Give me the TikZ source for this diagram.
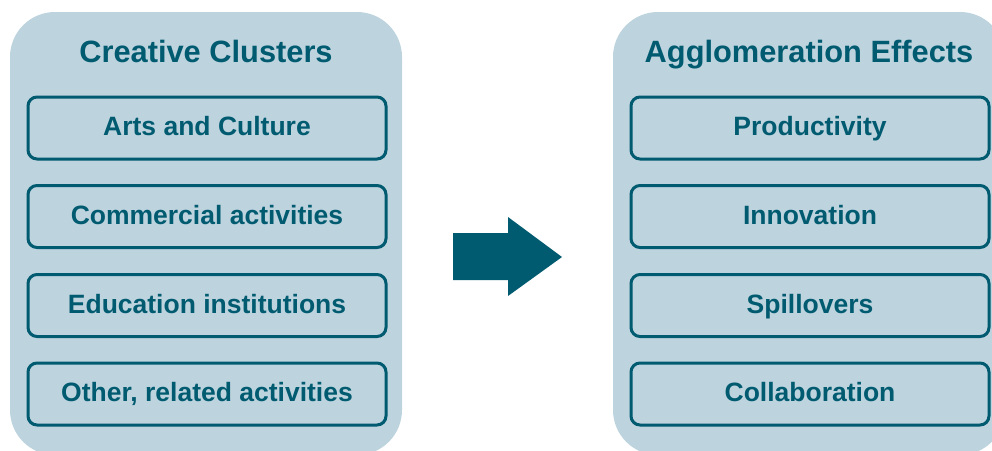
\documentclass[tikz,border=0pt]{standalone}
\usepackage{fontspec}
\setmainfont{Liberation Sans}
\definecolor{panelfill}{HTML}{BDD3DE}
\definecolor{teal}{HTML}{005B70}
\begin{document}
\begin{tikzpicture}[x=1pt,y=-1pt,
  panel/.style={fill=panelfill, draw=none, rounded corners=45pt, minimum width=392pt, minimum height=443pt, inner sep=0pt},
  title/.style={text=teal, font=\bfseries\fontsize{30.8}{34}\selectfont, inner sep=0pt, text height=22pt, text depth=0pt},
  item/.style={draw=teal, line width=3pt, rounded corners=9pt, minimum width=358pt, minimum height=62pt, inner sep=0pt, text=teal, text height=15pt, text depth=0pt, font=\bfseries\fontsize{26.5}{30}\selectfont}]
\clip (0,0) rectangle (992,450);
\node[panel] (lp) at (206,233.5) {};
\node[panel] (rp) at (809,233.5) {};
\node[title] (lt) at (206,51) {Creative Clusters};
\node[title] (rt) at (809,51) {Agglomeration Effects};
\node[item] (l1) at (207,128) {Arts and Culture};
\node[item] (l2) at (207,216.5) {Commercial activities};
\node[item] (l3) at (207,305.5) {Education institutions};
\node[item] (l4) at (207,394) {Other, related activities};
\node[item] (r1) at (810,128) {Productivity};
\node[item] (r2) at (810,216.5) {Innovation};
\node[item] (r3) at (810,305.5) {Spillovers};
\node[item] (r4) at (810,394) {Collaboration};
\fill[teal] (453,233) -- (508,233) -- (508,217) -- (562,257) -- (508,296) -- (508,280) -- (453,280) -- cycle;
\end{tikzpicture}
\end{document}
